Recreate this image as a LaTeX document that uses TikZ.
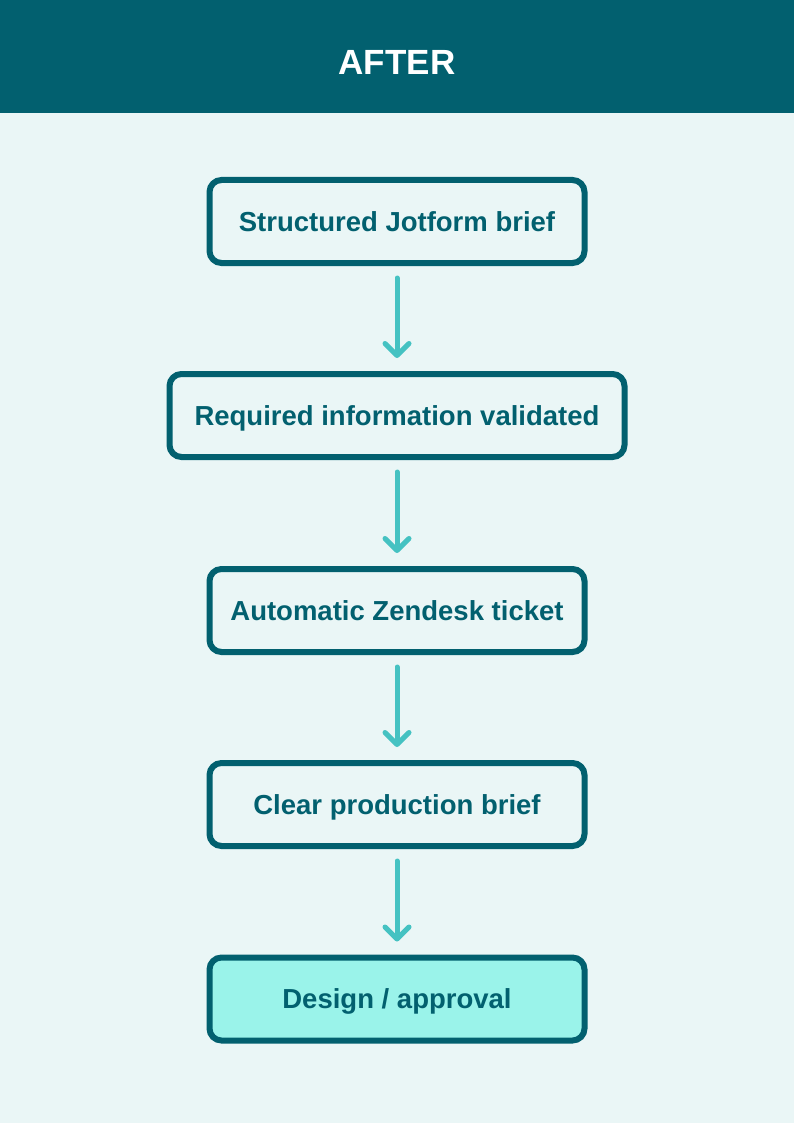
\documentclass[tikz,border=0pt]{standalone}
\usepackage{fontspec}
\setmainfont{Liberation Sans}
\usetikzlibrary{arrows.meta}
\definecolor{tealdark}{HTML}{02606F}
\definecolor{tealpale}{HTML}{EAF6F6}
\definecolor{tealarrow}{HTML}{45C2C2}
\definecolor{tealmint}{HTML}{9AF3EA}
\tikzset{
	stepbox/.style={draw=tealdark, line width=6pt, rectangle, rounded corners=12pt, fill=tealpale, text=tealdark, minimum width=375pt, minimum height=83pt, text height=19.7pt, text depth=0pt, font=\bfseries\fontsize{27.5}{32}\selectfont},
	headtitle/.style={text=white, text height=25pt, text depth=0pt, font=\bfseries\fontsize{35}{40}\selectfont},
	flow/.style={draw=tealarrow, line width=5pt, line cap=round, -{Straight Barb[length=12pt, width=24pt, round]}, shorten <=12pt, shorten >=13pt}
}

\begin{document}
\begin{tikzpicture}[x=1pt, y=-1pt]
				\useasboundingbox (0,0) rectangle (794,1123);
				\fill[tealpale] (0,0) rectangle (794,1123);
				\fill[tealdark] (0,0) rectangle (794,113);
				\node[headtitle] (head)at(397, 62) {AFTER};
				\node[stepbox] (brief)at(397, 221.5) {Structured Jotform brief};
				\node[stepbox, minimum width=455pt] (valid)at(397, 415.5) {Required information validated};
				\node[stepbox] (ticket)at(397, 610.5) {Automatic Zendesk ticket};
				\node[stepbox] (prod)at(397, 804.5) {Clear production brief};
				\node[stepbox, fill=tealmint] (design)at(397, 999) {Design / approval};
				\draw[flow] (brief) -- (valid);
				\draw[flow] (valid) -- (ticket);
				\draw[flow] (ticket) -- (prod);
				\draw[flow] (prod) -- (design);
			\end{tikzpicture}
\end{document}
